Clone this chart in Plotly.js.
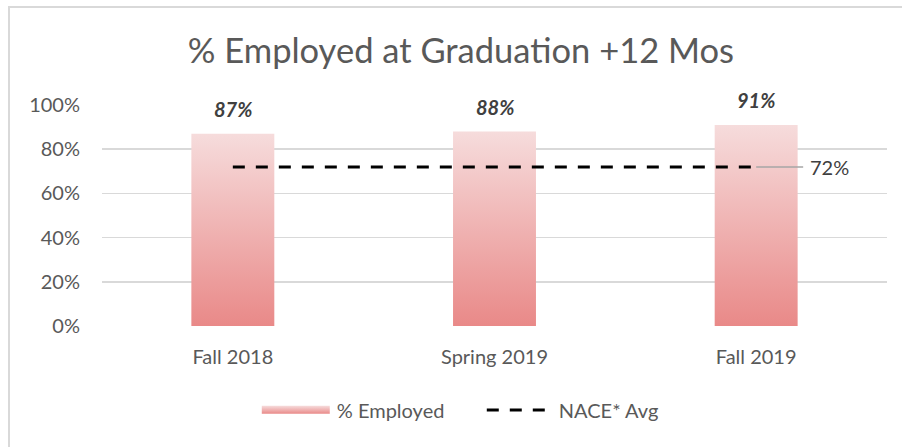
<!DOCTYPE html>
<html><head><meta charset="utf-8">
<script src="https://cdn.plot.ly/plotly-3.0.1.min.js"></script>
<style>
body{margin:0;background:#fff}
#chart{width:902px;height:447px;position:absolute;left:0;top:0}
#frame{position:absolute;left:8px;top:6px;width:1000px;height:1000px;border-left:2px solid #d9d9d9;border-top:2px solid #d9d9d9;pointer-events:none}
</style>
</head><body><div id="chart"></div><div id="frame"></div>
<script>
const categories = ['Fall 2018', 'Spring 2019', 'Fall 2019'];
const employed = [0.87, 0.88, 0.91];
const naceAvg = [0.72, 0.72, 0.72];
const barLabels = ['87%', '88%', '91%'];
const naceLabel = '72%';
const yTickVals = [0, 0.2, 0.4, 0.6, 0.8, 1.0];
const yTickText = ['0%', '20%', '40%', '60%', '80%', '100%'];
const seriesNames = ['% Employed', 'NACE* Avg'];
const titleText = '% Employed at Graduation +12 Mos';

const FONT = 'Lato, "Open Sans", sans-serif';

const data = [
  {
    type: 'bar', x: categories, y: employed, name: seriesNames[0],
    marker: {color: '#eeb3b3', line: {width: 0}}, width: 0.317
  },
  {
    type: 'scatter', mode: 'lines', x: categories, y: naceAvg, name: seriesNames[1],
    line: {color: '#000000', width: 3, dash: '12px,11px'}
  }
];

const annotations = categories.map((c, i) => ({
  x: c, y: employed[i], text: barLabels[i], showarrow: false,
  yanchor: 'middle', yshift: 25,
  font: {family: FONT, size: 20, color: '#404040', weight: 'bold', style: 'italic'}
}));
annotations.push({
  x: categories[categories.length - 1], y: naceAvg[naceAvg.length - 1], text: naceLabel,
  showarrow: true, arrowhead: 0, arrowwidth: 1.5, arrowcolor: '#a6a6a6',
  ax: 47, ay: 0, xanchor: 'left', standoff: 0, borderpad: 6,
  font: {family: FONT, size: 20, color: '#404040'}
});

const layout = {
  width: 902, height: 447,
  margin: {l: 102, r: 15, t: 105, b: 121},
  paper_bgcolor: 'rgba(0,0,0,0)', plot_bgcolor: 'rgba(0,0,0,0)',
  font: {family: FONT, color: '#595959', size: 20},
  title: {text: titleText, x: 0.511, xanchor: 'center', y: 0.885, yanchor: 'middle',
          font: {family: FONT, size: 34.5, color: '#595959'}},
  xaxis: {type: 'category', showgrid: false, showline: false, zeroline: false,
          ticks: '', tickfont: {size: 20, color: '#595959'}, ticklabelstandoff: 17},
  yaxis: {range: [0, 1], tickvals: yTickVals, ticktext: yTickText, showgrid: true,
          gridcolor: '#d9d9d9', gridwidth: 1.5, zeroline: false, showline: false, ticks: '',
          tickfont: {size: 20, color: '#595959'}, ticklabelstandoff: 21},
  showlegend: true,
  legend: {orientation: 'h', x: 0.201, xanchor: 'left', y: -0.38, yanchor: 'middle',
           font: {size: 20, color: '#595959'}, itemwidth: 67, entrywidth: 140,
           traceorder: 'normal'},
  annotations: annotations
};

Plotly.newPlot('chart', data, layout, {staticPlot: true}).then(gd => {
  const ns = 'http://www.w3.org/2000/svg';
  function addGrad(svg, id) {
    let defs = svg.querySelector('defs');
    if (!defs) { defs = document.createElementNS(ns, 'defs'); svg.insertBefore(defs, svg.firstChild); }
    const lg = document.createElementNS(ns, 'linearGradient');
    lg.setAttribute('id', id);
    lg.setAttribute('x1', '0'); lg.setAttribute('y1', '0');
    lg.setAttribute('x2', '0'); lg.setAttribute('y2', '1');
    [['0', '#f6dcdc'], ['1', '#e98988']].forEach(s => {
      const st = document.createElementNS(ns, 'stop');
      st.setAttribute('offset', s[0]); st.setAttribute('stop-color', s[1]);
      lg.appendChild(st);
    });
    defs.appendChild(lg);
  }
  gd.querySelectorAll('.barlayer .point path').forEach(p => {
    const svg = p.ownerSVGElement;
    if (!svg.querySelector('#barGrad')) addGrad(svg, 'barGrad');
    p.style.fill = 'url(#barGrad)';
  });
  const legTraces = gd.querySelectorAll('.legend .traces');
  if (legTraces.length) {
    const item = legTraces[0];
    const p = item.querySelector('.legendpoints path');
    const txt = item.querySelector('.legendtext');
    if (p && txt) {
      const svg = p.ownerSVGElement;
      if (!svg.querySelector('#legGrad')) addGrad(svg, 'legGrad');
      const tr = txt.getBoundingClientRect();
      const m = p.parentNode.getScreenCTM().inverse();
      const pt = svg.createSVGPoint();
      pt.x = tr.left - 7; pt.y = tr.top + tr.height / 2;
      const right = pt.matrixTransform(m);
      pt.x = tr.left - 75;
      const left = pt.matrixTransform(m);
      const cy = right.y;
      p.setAttribute('d', 'M' + left.x + ',' + (cy - 4) + 'H' + right.x + 'V' + (cy + 4) + 'H' + left.x + 'Z');
      p.removeAttribute('transform');
      p.style.fill = 'url(#legGrad)';
    }
  }
});
</script>
</body></html>
